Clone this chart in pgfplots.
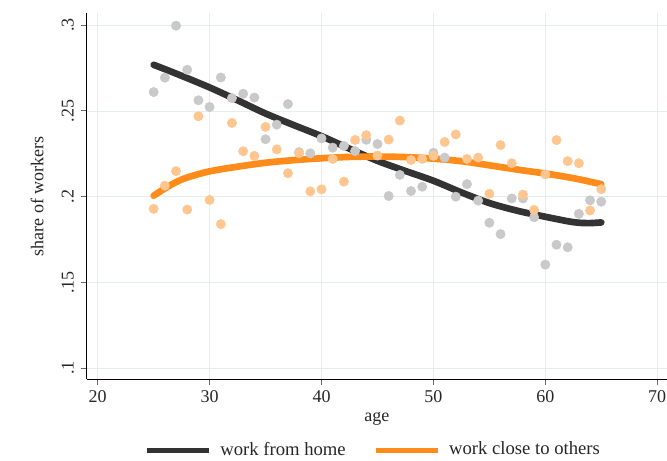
\documentclass[border=0pt]{standalone}
\usepackage{fontspec}
\setmainfont{Liberation Serif}
\usepackage{pgfplots}
\pgfplotsset{compat=1.18}
\definecolor{darkline}{HTML}{333333}
\definecolor{orangeline}{HTML}{FF8C1A}
\definecolor{graydot}{HTML}{C9C9C9}
\definecolor{orangedot}{HTML}{FFC690}
\definecolor{gridc}{HTML}{E5EEEE}
\begin{document}
\begin{tikzpicture}
\begin{axis}[
  x=8.3925pt, y=1286.25pt,
  xmin=19.017, xmax=70.875, ymin=0.09359, ymax=0.30694,
  axis x line*=bottom, axis y line*=left,
  axis line style={line width=0.8pt, black},
  xtick={20,30,40,50,60,70},
  xticklabels={20,30,40,50,60,70},
  ytick={0.1,0.15,0.2,0.25,0.3},
  yticklabels={.1,.15,.2,.25,.3},
  tick align=outside,
  major tick length=4.5pt,
  tick style={line width=0.8pt, color=black!60},
  grid=major,
  grid style={line width=0.6pt, gridc},
  ticklabel style={font=\fontsize{13.5}{16}\selectfont, text=black!85},
  xticklabel style={anchor=base, yshift=-13.2pt},
  yticklabel style={xshift=-5.4pt, rotate=90, anchor=base},
  xlabel={age}, ylabel={share of workers},
  every axis x label/.style={at={(axis description cs:0.5,0)}, anchor=base, yshift=-31.8pt, font=\fontsize{13.5}{16}\selectfont, text=black!85},
  every axis y label/.style={at={(axis description cs:-0.0748,0.5)}, rotate=90, anchor=base, font=\fontsize{13.5}{16}\selectfont, text=black!85},
  legend style={at={(axis description cs:0.4942,-0.1920)}, anchor=center, draw=none, fill=none,
    font=\fontsize{14}{16}\selectfont, text=black!85, inner sep=0pt,
    /tikz/every even column/.append style={column sep=18.5pt},
    /tikz/every odd column/.append style={column sep=4.5pt}},
  legend columns=2,
  legend image code/.code={\draw[#1, line width=4pt, line cap=butt] (0pt,-0.8pt) -- (46.5pt,-0.8pt);},
]
% scatter: work from home
\addplot[only marks, mark=*, mark size=3.5pt, graydot, mark options={draw=none, fill=graydot}, forget plot] coordinates {
(25,0.261) (26,0.2694) (27,0.2997) (28,0.274) (29,0.2562) (30,0.2523) (31,0.2695) (32,0.2575)
(33,0.260) (34,0.2578) (35,0.2335) (36,0.242) (37,0.254) (38,0.226) (39,0.2253) (40,0.234)
(41,0.2286) (42,0.2296) (43,0.2266) (44,0.2332) (45,0.2307) (46,0.2004) (47,0.2127) (48,0.2033)
(49,0.2058) (50,0.2256) (51,0.2228) (52,0.200) (53,0.2073) (54,0.1977) (55,0.1848) (56,0.1782)
(57,0.199) (58,0.199) (59,0.188) (60,0.1604) (61,0.172) (62,0.1705) (63,0.190) (64,0.1979) (65,0.1971)
};
% scatter: work close to others
\addplot[only marks, mark=*, mark size=3.5pt, orangedot, mark options={draw=none, fill=orangedot}, forget plot] coordinates {
(25,0.1929) (26,0.2064) (27,0.2149) (28,0.1925) (29,0.2469) (30,0.1981) (31,0.184) (32,0.243)
(33,0.2265) (34,0.2238) (35,0.2407) (36,0.2276) (37,0.2137) (38,0.2253) (39,0.2031) (40,0.2043)
(41,0.222) (42,0.2088) (43,0.2331) (44,0.2359) (45,0.224) (46,0.2333) (47,0.2444) (48,0.2214)
(49,0.222) (50,0.2238) (51,0.2319) (52,0.2363) (53,0.222) (54,0.2228) (55,0.2017) (56,0.2301)
(57,0.2195) (58,0.2012) (59,0.1923) (60,0.213) (61,0.233) (62,0.2207) (63,0.2195) (64,0.192) (65,0.2044)
};
% fitted: work from home
\addplot[darkline, line width=5pt, line cap=round, smooth, no markers] coordinates {
(25,0.2769) (27,0.2718) (30,0.2637) (32.5,0.2562) (35,0.2485) (37.5,0.2418) (40,0.2353)
(42.5,0.228) (45,0.2209) (47.5,0.215) (50,0.2093) (52.5,0.2025) (55,0.1963) (57.5,0.1918)
(60,0.1883) (62,0.1857) (63,0.1848) (64,0.1846) (65,0.185)
};
\addlegendentry{work from home}
% fitted: work close to others
\addplot[orangeline, line width=5pt, line cap=round, smooth, no markers] coordinates {
(25,0.2006) (26,0.2048) (27,0.2085) (28,0.2112) (30,0.2148) (32.5,0.2175) (35,0.2198)
(37.5,0.2213) (40,0.2224) (42.5,0.2232) (45,0.2234) (47.5,0.2231) (50,0.2222) (52.5,0.2207)
(55,0.2183) (57.5,0.2158) (60,0.2135) (62.5,0.2108) (65,0.2073)
};
\addlegendentry{work close to others}
\coordinate (BL) at (axis cs:11.269,0.04647);
\coordinate (TR) at (axis cs:70.875,0.31469);
\end{axis}
\pgfresetboundingbox
\useasboundingbox (BL) rectangle (TR);
\end{tikzpicture}
\end{document}
